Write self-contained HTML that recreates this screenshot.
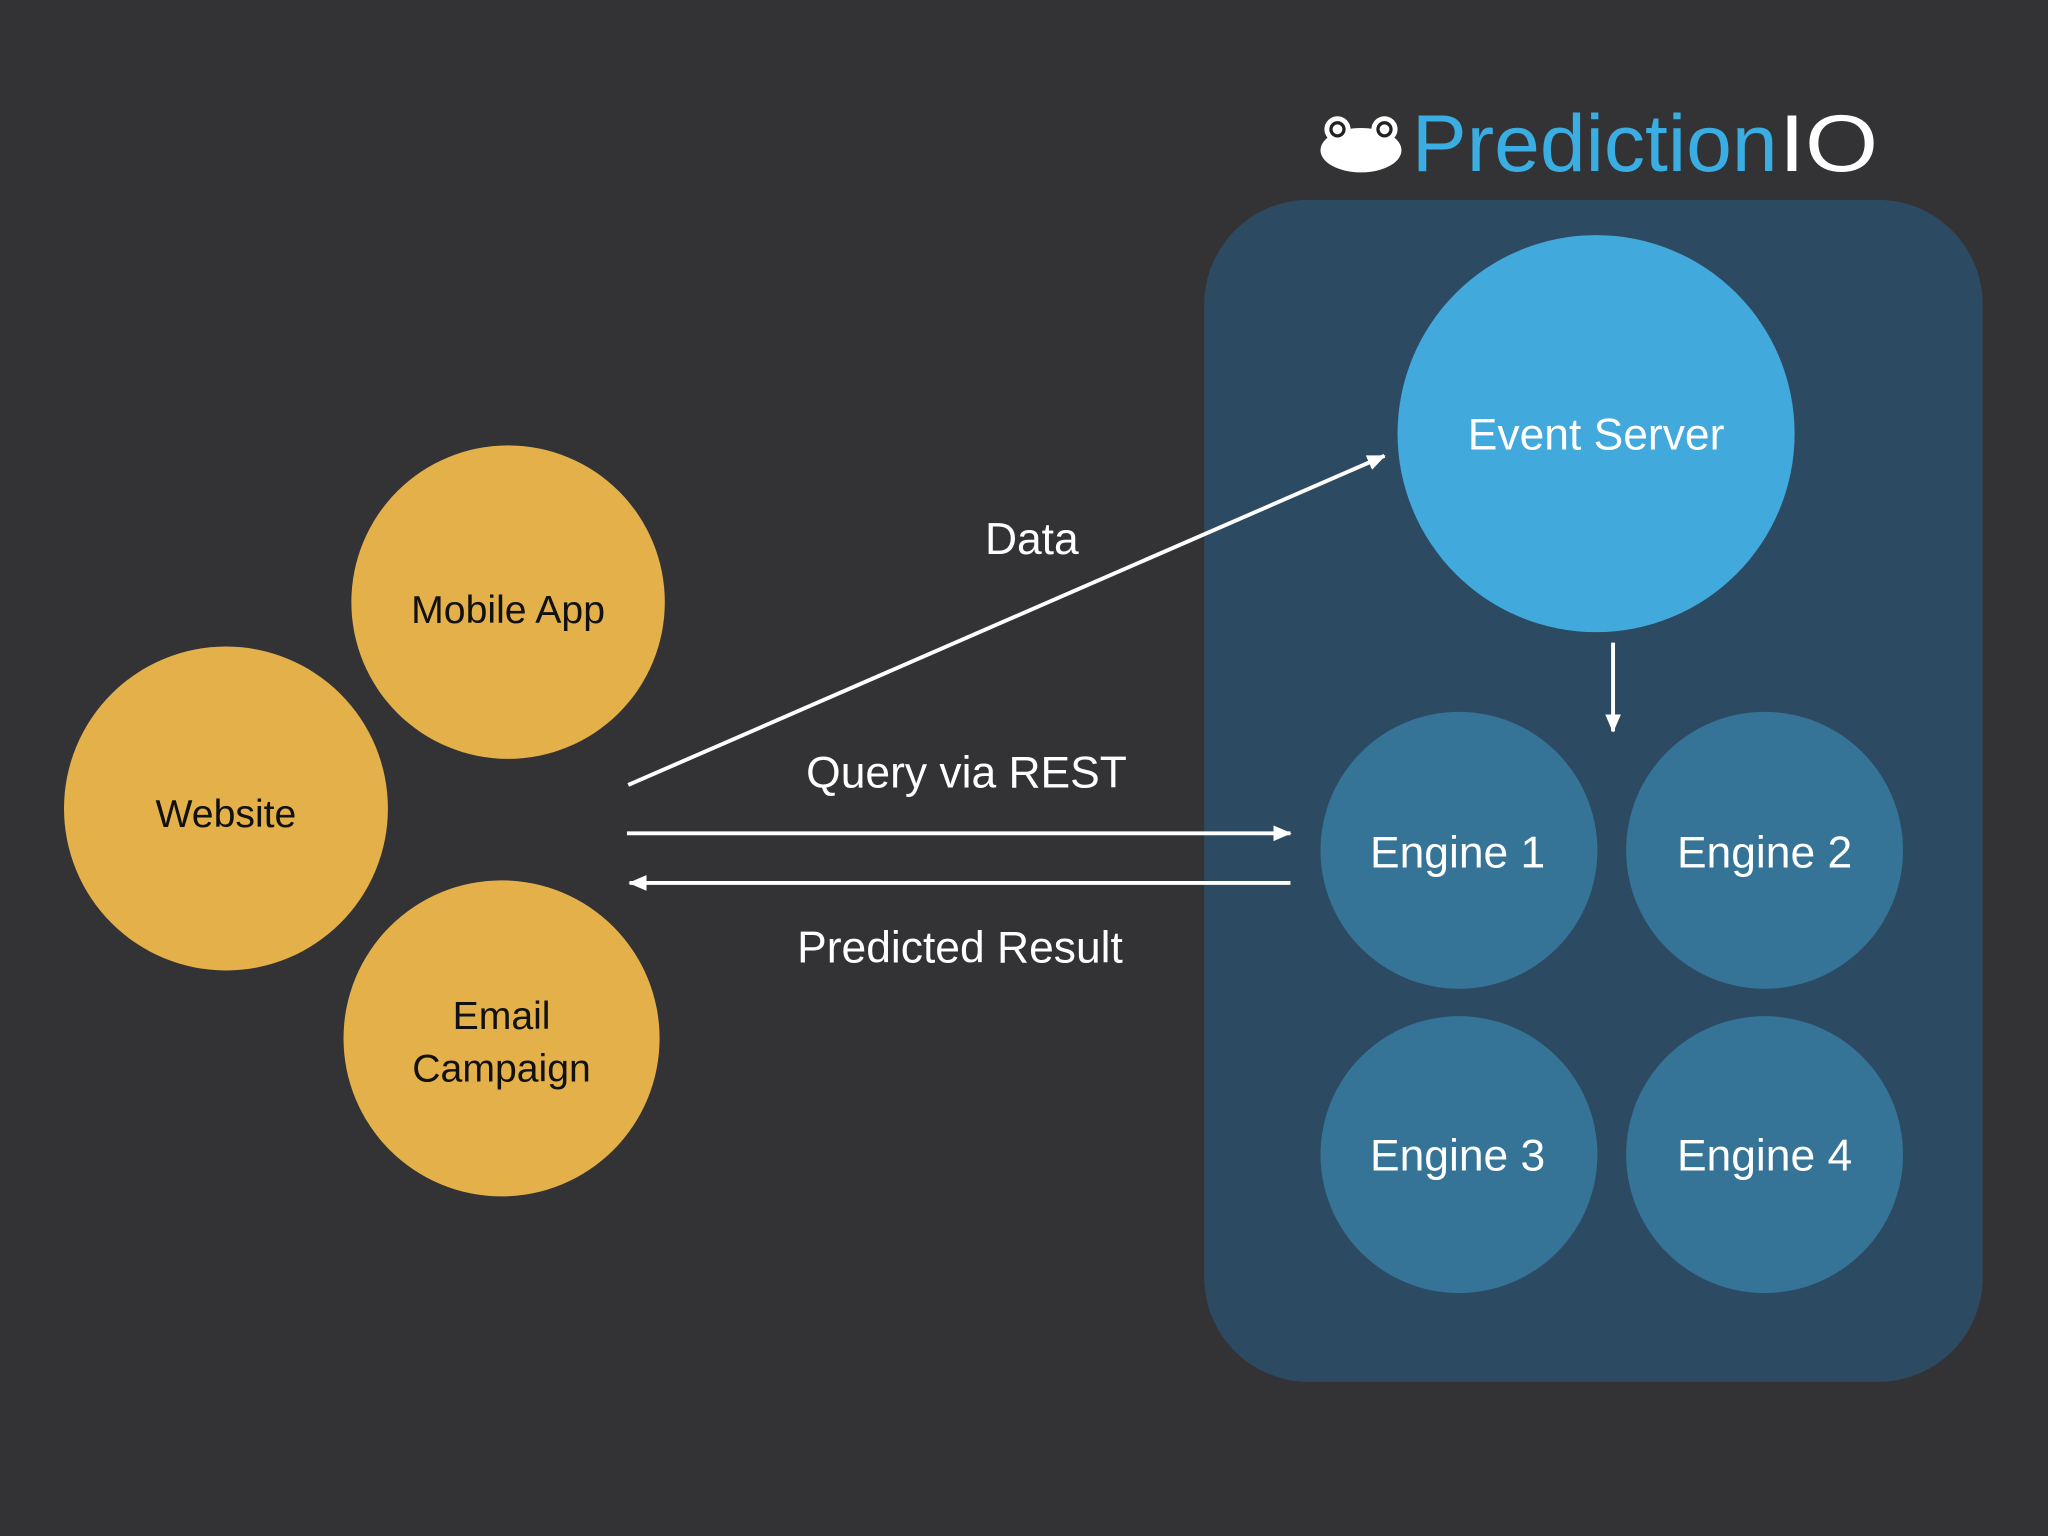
<!DOCTYPE html>
<html><head><style>html,body{margin:0;padding:0;background:#333234;}svg{display:block}</style></head>
<body>
<svg width="2048" height="1536" viewBox="0 0 1568 1176" xmlns="http://www.w3.org/2000/svg" font-family="Liberation Sans, sans-serif">
<defs>
<marker id="ah" markerWidth="10" markerHeight="10" refX="9" refY="5" orient="auto" markerUnits="userSpaceOnUse"><path d="M0,0 L10,5 L0,10 z" fill="#fff"/></marker>
<marker id="ah2" markerWidth="14" markerHeight="12" refX="13" refY="6" orient="auto" markerUnits="userSpaceOnUse"><path d="M0,0 L14,6 L0,12 z" fill="#fff"/></marker>
</defs>
<rect width="1568" height="1176" fill="#333234"/>
<rect x="922" y="153" width="596" height="905" rx="80" fill="#2d4a63"/>
<circle cx="1222" cy="332" r="152" fill="#41a9dc"/>
<circle cx="1117" cy="651" r="106" fill="#357397"/>
<circle cx="1351" cy="651" r="106" fill="#357397"/>
<circle cx="1117" cy="884" r="106" fill="#357397"/>
<circle cx="1351" cy="884" r="106" fill="#357397"/>
<circle cx="389" cy="461" r="120" fill="#e3b04a"/>
<circle cx="173" cy="619" r="124" fill="#e3b04a"/>
<circle cx="384" cy="795" r="121" fill="#e3b04a"/>
<g stroke="#fff" stroke-width="3" fill="none">
<line x1="481" y1="601" x2="1060" y2="349" marker-end="url(#ah2)"/>
<line x1="480" y1="638" x2="988" y2="638" marker-end="url(#ah2)"/>
<line x1="988" y1="676" x2="482" y2="676" marker-end="url(#ah2)"/>
<line x1="1235" y1="492" x2="1235" y2="560" marker-end="url(#ah2)"/>
</g>
<g fill="#fff" font-size="34" text-anchor="middle">
<text x="790" y="424">Data</text>
<text x="740" y="603">Query via REST</text>
<text x="735" y="737">Predicted Result</text>
<text x="1222" y="344">Event Server</text>
<text x="1116" y="664">Engine 1</text>
<text x="1351" y="664">Engine 2</text>
<text x="1116" y="896">Engine 3</text>
<text x="1351" y="896">Engine 4</text>
</g>
<g fill="#111" font-size="30" text-anchor="middle">
<text x="389" y="477">Mobile App</text>
<text x="173" y="633">Website</text>
<text x="384" y="788">Email</text>
<text x="384" y="828">Campaign</text>
</g>
<g>
<ellipse cx="1042" cy="115" rx="31" ry="17" fill="#fff"/>
<circle cx="1024" cy="99" r="10" fill="#fff"/>
<circle cx="1060" cy="99" r="10" fill="#fff"/>
<circle cx="1024" cy="99" r="5" fill="none" stroke="#222" stroke-width="2.5"/>
<circle cx="1060" cy="99" r="5" fill="none" stroke="#222" stroke-width="2.5"/>
<text x="1081" y="131" font-size="62" fill="#3aaee3" textLength="280" lengthAdjust="spacingAndGlyphs">Prediction</text>
<text x="1362" y="131" font-size="62" fill="#fff" textLength="76" lengthAdjust="spacingAndGlyphs">IO</text>
</g>
</svg>
</body></html>
